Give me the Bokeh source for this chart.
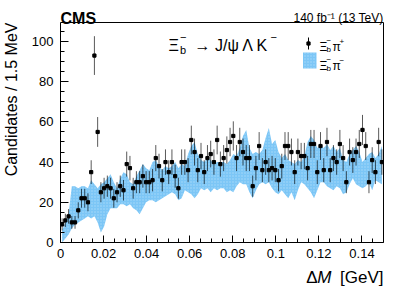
import math
from bokeh.plotting import figure
from bokeh.models import Label, Range1d, FixedTicker, CustomJSTickFormatter
from bokeh.embed import file_html
from bokeh.resources import INLINE

# ---------------- data ----------------
bin_width_gev = 0.0015
x_min, x_max = 0.0, 0.15
y_min, y_max = 0.0, 109.45

# Xi_b- pi+ candidates per 1.5 MeV bin (100 bins, 0 - 0.15 GeV)
counts_pip = [
    9, 11, 13, 10, 10, 16, 22, 22, 20, 35, 93, 55, 25, 27, 28, 27, 22,
    25, 28, 26, 39, 37, 27, 30, 30, 33, 30, 30, 31, 42, 38, 31, 40, 35,
    40, 33, 27, 40, 40, 36, 51, 45, 36, 43, 35, 42, 44, 40, 51, 39,
    42, 46, 50, 53, 42, 50, 45, 42, 42, 28, 37, 48, 36, 40, 36, 37,
    36, 31, 38, 48, 48, 45, 35, 45, 43, 43, 37, 49, 49, 35, 48, 36, 50, 36,
    42, 40, 49, 42, 30, 45, 41, 45, 49, 56, 48, 30, 41, 35, 50, 40,
]

# Xi_b- pi- band: lower and upper edges per bin
band_low = [
    0, 2, 4, 7, 9, 10, 11, 12, 13, 12, 13, 10, 5, 8, 14, 17, 17,
    17, 19, 19, 18, 19, 17, 16, 14, 17, 20, 21, 21, 20, 21, 22, 23, 24,
    25, 24, 21, 22, 26, 25, 24, 22, 24, 27, 26, 27, 25, 27, 26, 27,
    27, 25, 26, 25, 28, 30, 29, 29, 25, 22, 26, 29, 30, 29, 30, 27,
    25, 24, 26, 24, 22, 25, 21, 26, 30, 29, 27, 25, 22, 26, 30, 30, 28, 27,
    26, 28, 27, 24, 25, 29, 32, 29, 28, 27, 28, 30, 26, 31, 30, 29,
]
band_high = [
    6, 10, 14, 28, 28, 27, 28, 28, 27, 31, 29, 27, 29, 30, 32, 34, 30,
    27, 32, 35, 34, 30, 29, 33, 36, 39, 37, 36, 40, 41, 38, 36, 38, 37,
    38, 40, 37, 39, 38, 44, 48, 50, 44, 41, 40, 42, 41, 39, 40, 40,
    40, 39, 41, 44, 43, 47, 53, 56, 47, 44, 45, 44, 46, 52, 57, 49,
    51, 45, 42, 44, 41, 40, 39, 41, 40, 43, 50, 53, 51, 47, 48, 47, 49, 46,
    48, 45, 47, 41, 40, 44, 46, 48, 45, 40, 42, 44, 45, 42, 44, 48,
]

x_major_ticks = [0, 0.02, 0.04, 0.06, 0.08, 0.1, 0.12, 0.14]
x_minor_ticks = [round(i * 0.005, 3) for i in range(31)]
y_major_ticks = [0, 20, 40, 60, 80, 100]
y_minor_ticks = [i * 5 for i in range(22)]

# ---------------- derived ----------------
n_bins = len(counts_pip)
x_centers = [(i + 0.5) * bin_width_gev for i in range(n_bins)]
err = [math.sqrt(c) for c in counts_pip]
y_lo = [c - e for c, e in zip(counts_pip, err)]
y_hi = [c + e for c, e in zip(counts_pip, err)]
x_l = [x - bin_width_gev / 2 for x in x_centers]
x_r = [x + bin_width_gev / 2 for x in x_centers]

# layout in pixels: the frame fills the canvas, the axes box spans x 60..383, y 22..242
W, H = 399, 286
BOX_L, BOX_R, BOX_T, BOX_B = 60, 383, 22, 242
sx_per = (x_max - x_min) / (BOX_R - BOX_L)
sy_per = (y_max - y_min) / (BOX_B - BOX_T)
x_start = x_min - BOX_L * sx_per
x_end = x_max + (W - BOX_R) * sx_per
y_start = y_min - (H - BOX_B) * sy_per
y_end = y_max + BOX_T * sy_per


def dx(sx):
    return x_min + (sx - BOX_L) * sx_per


def dy(sy):
    return y_min + (BOX_B - sy) * sy_per


p = figure(width=W, height=H, x_range=Range1d(x_start, x_end), y_range=Range1d(y_start, y_end),
           output_backend="svg", toolbar_location=None,
           min_border_left=0, min_border_right=0, min_border_top=0, min_border_bottom=0)
p.background_fill_color = "white"
p.border_fill_color = "white"
p.outline_line_color = None
p.grid.visible = False

BLUE = "#7cc6f6"

# band
p.varea(x=x_centers, y1=band_low, y2=band_high, fill_color=BLUE, fill_alpha=1.0,
        hatch_pattern="dot", hatch_color="white", hatch_alpha=0.35, hatch_scale=3)

# data points
p.segment(x0=x_centers, y0=y_lo, x1=x_centers, y1=y_hi, line_color="black", line_alpha=0.65, line_width=1)
p.segment(x0=x_l, y0=counts_pip, x1=x_r, y1=counts_pip, line_color="black", line_width=1)
p.scatter(x=x_centers, y=counts_pip, marker="square", size=3.2, color="black")

# top and right border of the axes box
p.segment(x0=[x_min, x_max], y0=[y_max, y_min], x1=[x_max, x_max], y1=[y_max, y_max],
          line_color="black", line_width=1)

# axes, pinned to the axes box inside the full-canvas frame
FONT = "Liberation Sans"
xa, ya = p.xaxis[0], p.yaxis[0]
for ax in (xa, ya):
    ax.axis_line_color = "black"
    ax.major_tick_out = 0
    ax.minor_tick_out = 0
    ax.major_label_text_font = FONT
    ax.major_label_text_font_size = "13px"
    ax.major_label_text_color = "black"
    ax.major_tick_line_color = "black"
    ax.minor_tick_line_color = "black"
xa.fixed_location = y_min
ya.fixed_location = x_min
xa.bounds = (x_min, x_max)
ya.bounds = (y_min, y_max)
xa.ticker = FixedTicker(ticks=x_major_ticks, minor_ticks=x_minor_ticks)
ya.ticker = FixedTicker(ticks=y_major_ticks, minor_ticks=y_minor_ticks)
xa.formatter = CustomJSTickFormatter(code="return String(+tick.toFixed(3));")
xa.major_tick_in = 7
xa.minor_tick_in = 4
ya.major_tick_in = 8
ya.minor_tick_in = 4
xa.major_label_standoff = 6
ya.major_label_standoff = 7


def lab(text, sx, sy, size, align="left", baseline="alphabetic", style="normal", angle=0.0):
    p.add_layout(Label(x=dx(sx), y=dy(sy), text=text, text_font=FONT, text_font_size=f"{size}px",
                       text_align=align, text_baseline=baseline, text_font_style=style,
                       text_color="black", angle=angle))


# axis titles
lab("Candidates / 1.5 MeV", 11, 22, 16, align="right", baseline="middle", angle=math.pi / 2)
lab("[GeV]", 383, 277, 17, align="right")
lab("M", 331, 277, 17, align="right", style="italic")
lab("\u0394", 317, 277, 17, align="right")

# header
lab("CMS", 60, 17.5, 16, style="bold")
lab("140 fb\u207b\u00b9 (13 TeV)", 383, 17.5, 12, align="right")

# decay title
lab("\u039e", 168, 45, 16)
lab("b", 179.5, 49, 11)
lab("\u2212", 179.5, 36, 11)
lab("\u2192 J/\u03c8 \u039b K", 194, 45, 16)
lab("\u2212", 270, 36, 11)

# legend
p.segment(x0=[dx(308)], y0=[dy(37)], x1=[dx(308)], y1=[dy(49)], line_color="black", line_width=1)
p.scatter(x=[dx(308)], y=[dy(43)], marker="square", size=3.2, color="black")
p.quad(left=[dx(302.5)], right=[dx(316)], bottom=[dy(68)], top=[dy(52)], fill_color=BLUE,
       line_color=None, hatch_pattern="dot", hatch_color="white", hatch_alpha=0.35, hatch_scale=3)
for base in (46, 65):
    lab("\u039e", 319, base, 12)
    lab("b", 326, base + 3, 8)
    lab("\u2212", 326, base - 6.5, 8)
    lab("\u03c0", 332, base, 12)
lab("+", 339, 40.5, 8)
lab("\u2212", 339, 59.5, 8)

open("out.html", "w").write(file_html(p, INLINE))
